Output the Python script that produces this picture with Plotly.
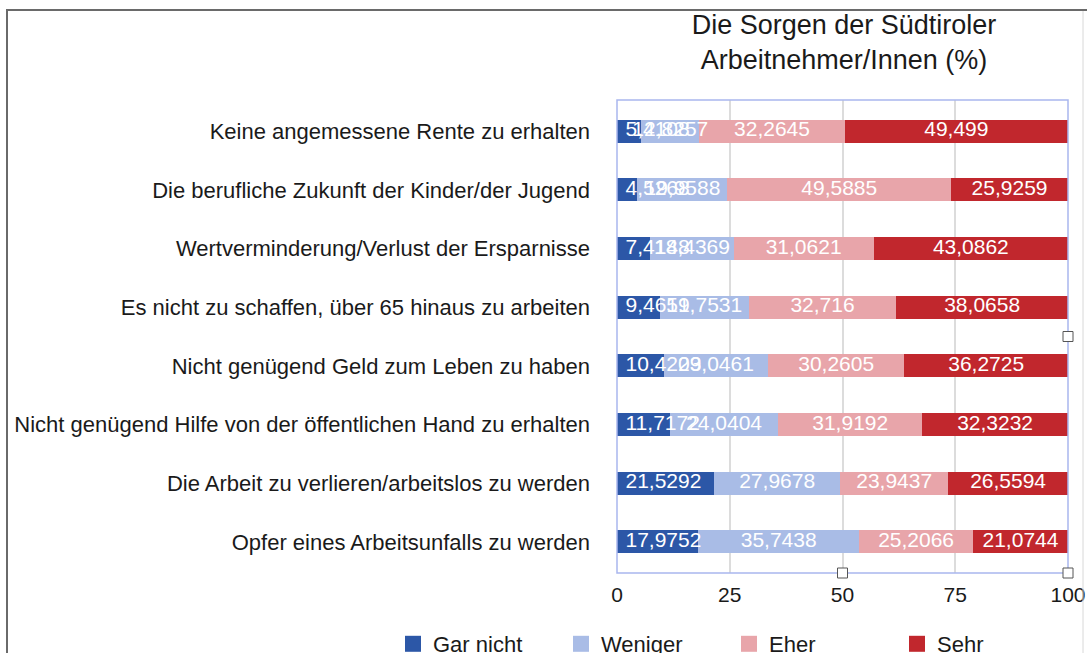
import plotly.graph_objects as go

categories = [
    "Keine angemessene Rente zu erhalten",
    "Die berufliche Zukunft der Kinder/der Jugend",
    "Wertverminderung/Verlust der Ersparnisse",
    "Es nicht zu schaffen, über 65 hinaus zu arbeiten",
    "Nicht genügend Geld zum Leben zu haben",
    "Nicht genügend Hilfe von der öffentlichen Hand zu erhalten",
    "Die Arbeit zu verlieren/arbeitslos zu werden",
    "Opfer eines Arbeitsunfalls zu werden",
]
gar_nicht = [5.4108, 4.5268, 7.4148, 9.4651, 10.4209, 11.7172, 21.5292, 17.9752]
weniger = [12.8257, 19.9588, 18.4369, 19.7531, 23.0461, 24.0404, 27.9678, 35.7438]
eher = [32.2645, 49.5885, 31.0621, 32.716, 30.2605, 31.9192, 23.9437, 25.2066]
sehr = [49.499, 25.9259, 43.0862, 38.0658, 36.2725, 32.3232, 26.5594, 21.0744]

series_names = ["Gar nicht", "Weniger", "Eher", "Sehr"]
series_values = [gar_nicht, weniger, eher, sehr]
colors = ["#2C57A7", "#A9BCE6", "#E8A5AA", "#C1272D"]
tick_vals = [0, 25, 50, 75, 100]
title_text = "Die Sorgen der Südtiroler<br>Arbeitnehmer/Innen (%)"

FONT = "Liberation Sans, Arial, Helvetica, sans-serif"
TXT = "#1A1A1A"

def de(v):
    return str(v).replace(".", ",")

fig = go.Figure()
# stacked bars
for name, vals, col in zip(series_names, series_values, colors):
    fig.add_trace(go.Bar(
        y=categories, x=vals, name=name, orientation="h",
        marker=dict(color=col, line=dict(width=0)),
        textposition="none", showlegend=False,
        hovertemplate=name + ": %{x}<extra>%{y}</extra>",
    ))

# value labels drawn on top of all bars (they overlap like in the original)
starts = [0.0] * len(categories)
for i, (name, vals) in enumerate(zip(series_names, series_values)):
    if i == 0:
        xs = [s for s in starts]
        pos = "middle right"
    else:
        xs = [s + v / 2 for s, v in zip(starts, vals)]
        pos = "middle center"
    fig.add_trace(go.Scatter(
        x=xs, y=categories, mode="markers+text", text=[de(v) for v in vals],
        marker=dict(size=12, opacity=0, color="white"),
        textposition=pos, textfont=dict(color="white", size=21, family=FONT),
        showlegend=False, hoverinfo="skip", cliponaxis=False,
    ))
    starts = [s + v for s, v in zip(starts, vals)]

# legend entries (square markers)
for name, col in zip(series_names, colors):
    fig.add_trace(go.Scatter(
        x=[None], y=[None], mode="markers", name=name,
        marker=dict(symbol="square", size=16, color=col),
        showlegend=True, hoverinfo="skip",
    ))

L, R, T, B = 617, 19, 100, 80
W, H = 1087, 653
pw, ph = W - L - R, H - T - B

def px_x(p):
    return (p - L) / pw

def px_y(p):
    return (H - B - p) / ph

shapes = [
    dict(type="line", xref="paper", yref="paper", x0=px_x(7), x1=px_x(7), y0=px_y(10), y1=px_y(660),
         line=dict(color="#6A6A6A", width=2)),
    dict(type="line", xref="paper", yref="paper", x0=px_x(6), x1=px_x(1090), y0=px_y(10), y1=px_y(10),
         line=dict(color="#6A6A6A", width=2)),
    dict(type="line", xref="paper", yref="paper", x0=px_x(1083), x1=px_x(1083), y0=px_y(11), y1=px_y(660),
         line=dict(color="#D8D8D8", width=1)),
    dict(type="rect", xref="paper", yref="paper", x0=0, x1=1, y0=0, y1=1,
         line=dict(color="#A9B6EE", width=1.5), layer="above"),
]
for hx, hy in [(0.5, 0), (1, 0), (1, 0.5)]:
    shapes.append(dict(type="rect", xref="paper", yref="paper", xsizemode="pixel", ysizemode="pixel",
                       xanchor=hx, yanchor=hy, x0=-5, x1=5, y0=-5, y1=5,
                       fillcolor="white", line=dict(color="#555555", width=1), layer="above"))

fig.update_layout(
    width=W, height=H,
    barmode="stack", bargap=0.61,
    paper_bgcolor="white", plot_bgcolor="white",
    font=dict(family=FONT, color=TXT),
    margin=dict(l=L, r=R, t=T, b=B, autoexpand=False),
    title=dict(text=title_text, x=844 / W, xanchor="center", xref="container",
               y=1 - 34 / H, yanchor="top", yref="container",
               font=dict(size=27, family=FONT, color=TXT)),
    legend=dict(orientation="h", x=px_x(393), xanchor="left", y=px_y(644), yanchor="middle",
                font=dict(size=22, family=FONT, color=TXT),
                entrywidth=123, entrywidthmode="pixels",
                bgcolor="rgba(0,0,0,0)", traceorder="normal", itemsizing="trace"),
    shapes=shapes,
)
fig.update_xaxes(range=[0, 100], tickvals=tick_vals, ticktext=[str(t) for t in tick_vals],
                 showgrid=True, gridcolor="#DCDCDC", gridwidth=1.5, zeroline=False,
                 showline=False, ticks="", ticklabelstandoff=7,
                 tickfont=dict(size=21, family=FONT, color=TXT), fixedrange=True)
fig.update_yaxes(categoryorder="array", categoryarray=categories[::-1],
                 showgrid=False, zeroline=False, showline=False, ticks="",
                 ticklabelstandoff=26,
                 tickfont=dict(size=22, family=FONT, color=TXT), fixedrange=True)

fig.write_html("out.html", config={"displayModeBar": False},
               post_script="document.body.style.margin='0';document.body.style.overflow='hidden';")
